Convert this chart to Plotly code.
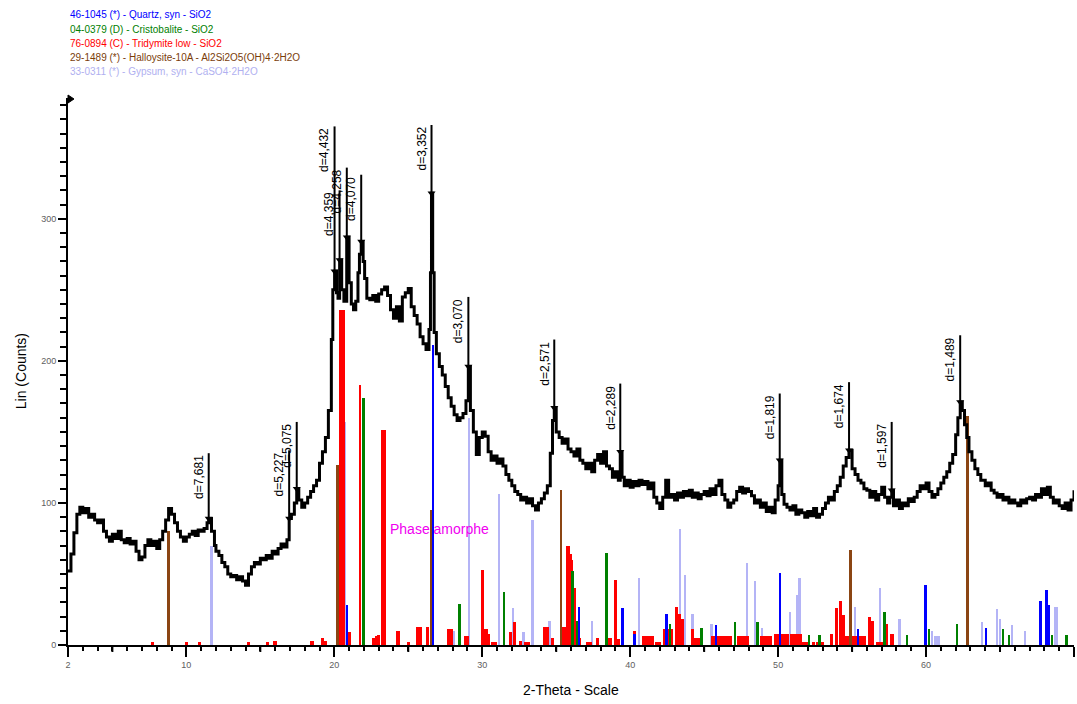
import math
import plotly.graph_objects as go

# ---------------- measured pattern (2-theta, counts) ----------------
two_theta = [
    2.0, 2.2, 2.4, 2.6, 2.8, 3.0, 3.2, 3.4, 3.6, 3.8,
    4.0, 4.2, 4.4, 4.6, 4.8, 5.0, 5.2, 5.4, 5.6, 5.8,
    6.0, 6.2, 6.4, 6.6, 6.8, 7.0, 7.2, 7.4, 7.6, 7.8,
    8.0, 8.2, 8.4, 8.6, 8.8, 9.0, 9.2, 9.4, 9.6, 9.8,
    10.0, 10.2, 10.4, 10.6, 10.8, 11.0, 11.2, 11.4, 11.51, 11.7, 11.9,
    12.0, 12.2, 12.4, 12.6, 12.8, 13.0, 13.2, 13.4, 13.6, 13.8,
    14.0, 14.2, 14.4, 14.6, 14.8, 15.0, 15.2, 15.4, 15.6, 15.8,
    16.0, 16.2, 16.4, 16.6, 16.8, 16.95, 17.1, 17.3, 17.46, 17.6, 17.8,
    18.0, 18.2, 18.4, 18.6, 18.8, 19.0, 19.2, 19.4, 19.6, 19.8,
    19.9, 20.02, 20.15, 20.25, 20.36, 20.5, 20.65, 20.84, 21.0, 21.15,
    21.3, 21.45, 21.6, 21.7, 21.82, 21.95, 22.05, 22.2,
    22.4, 22.6, 22.8, 23.0, 23.2, 23.4, 23.6, 23.8,
    24.0, 24.2, 24.4, 24.6, 24.8, 25.0, 25.2, 25.4, 25.6, 25.8,
    26.0, 26.2, 26.4, 26.5, 26.57, 26.65, 26.75, 26.9, 27.1, 27.3, 27.5, 27.7, 27.9,
    28.1, 28.3, 28.5, 28.7, 28.9, 29.06, 29.2, 29.4, 29.6, 29.8,
    30.0, 30.2, 30.4, 30.6, 30.8, 31.0, 31.2, 31.4, 31.6, 31.8,
    32.0, 32.2, 32.4, 32.6, 32.8, 33.0, 33.2, 33.4, 33.6, 33.8,
    34.0, 34.2, 34.4, 34.6, 34.75, 34.87, 35.0, 35.2, 35.4, 35.6, 35.8,
    36.0, 36.2, 36.4, 36.6, 36.8, 37.0, 37.2, 37.4, 37.6, 37.8,
    38.0, 38.2, 38.4, 38.6, 38.8, 39.0, 39.2, 39.33, 39.45, 39.6, 39.8,
    40.0, 40.2, 40.4, 40.6, 40.8, 41.0, 41.2, 41.4, 41.6, 41.8,
    42.0, 42.2, 42.4, 42.6, 42.8, 43.0, 43.2, 43.4, 43.6, 43.8,
    44.0, 44.2, 44.4, 44.6, 44.8, 45.0, 45.2, 45.4, 45.6, 45.8,
    46.0, 46.2, 46.4, 46.6, 46.8, 47.0, 47.2, 47.4, 47.6, 47.8,
    48.0, 48.2, 48.4, 48.6, 48.8, 49.0, 49.2, 49.4, 49.6, 49.8,
    50.0, 50.11, 50.25, 50.4, 50.6, 50.8, 51.0, 51.2, 51.4, 51.6, 51.8,
    52.0, 52.2, 52.4, 52.6, 52.8, 53.0, 53.2, 53.4, 53.6, 53.8,
    54.0, 54.2, 54.4, 54.6, 54.79, 55.0, 55.2, 55.4, 55.6, 55.8,
    56.0, 56.2, 56.4, 56.6, 56.8, 57.0, 57.2, 57.4, 57.55, 57.68, 57.8,
    58.0, 58.2, 58.4, 58.6, 58.8, 59.0, 59.2, 59.4, 59.6, 59.8,
    60.0, 60.2, 60.4, 60.6, 60.8, 61.0, 61.2, 61.4, 61.6, 61.8,
    62.0, 62.15, 62.31, 62.45, 62.6, 62.75, 62.9, 63.1, 63.3, 63.5, 63.7,
    64.0, 64.2, 64.4, 64.6, 64.8, 65.0, 65.2, 65.4, 65.6, 65.8,
    66.0, 66.2, 66.4, 66.6, 66.8, 67.0, 67.2, 67.4, 67.6, 67.8,
    68.0, 68.2, 68.4, 68.6, 68.8, 69.0, 69.2, 69.4, 69.6, 69.8, 70.0,
]
counts = [
    52, 64, 79, 92, 97, 93, 96, 90, 92, 88,
    86, 88, 80, 76, 73, 78, 75, 80, 74, 72,
    75, 71, 73, 66, 60, 62, 70, 74, 70, 73,
    68, 74, 80, 88, 96, 92, 86, 80, 76, 73,
    76, 78, 80, 77, 81, 80, 82, 86, 89, 80, 70,
    66, 63, 58, 55, 50, 48, 49, 46, 48, 45,
    42, 50, 55, 58, 57, 61, 60, 63, 61, 66,
    64, 68, 71, 69, 74, 89, 92, 100, 110, 102, 97,
    100, 104, 108, 112, 116, 128, 136, 146, 165, 215,
    250, 263, 248, 244, 271, 250, 242, 287, 255, 240,
    236, 242, 262, 275, 284, 270, 258, 244,
    243, 246, 242, 247, 250, 252, 246, 236,
    230, 238, 228, 245, 248, 251, 238, 232, 226, 217,
    212, 208, 222, 262, 318, 262, 220, 205, 196, 190, 182, 174, 168,
    162, 158, 160, 163, 172, 196, 165, 150, 134, 146,
    150, 147, 136, 130, 133, 128, 131, 126, 120, 116,
    112, 108, 106, 102, 104, 100, 103, 98, 95, 100,
    103, 107, 112, 135, 158, 167, 150, 146, 142, 145, 138,
    136, 133, 138, 130, 128, 124, 128, 122, 130, 134,
    128, 136, 126, 124, 118, 122, 116, 136, 118, 112, 116,
    111, 115, 112, 116, 113, 115, 110, 114, 104, 100,
    96, 104, 116, 104, 106, 102, 107, 104, 108, 105,
    109, 104, 107, 103, 106, 108, 105, 110, 106, 112,
    116, 106, 102, 97, 100, 102, 108, 111, 107, 110,
    108, 105, 100, 102, 97, 100, 94, 97, 93, 102,
    112, 130, 106, 99, 97, 95, 98, 92, 95, 93, 90,
    94, 91, 96, 90, 92, 96, 100, 104, 102, 108,
    112, 118, 126, 132, 137, 124, 120, 116, 114, 110,
    109, 104, 108, 102, 106, 111, 104, 100, 104, 109, 98,
    102, 96, 100, 98, 103, 101, 104, 108, 112, 110,
    114, 108, 104, 106, 110, 114, 118, 122, 128, 134,
    148, 160, 171, 165, 155, 146, 136, 130, 124, 120, 116,
    112, 114, 109, 107, 104, 106, 102, 104, 100, 102,
    100, 98, 102, 100, 103, 104, 102, 106, 104, 110,
    106, 111, 104, 100, 102, 98, 96, 100, 95, 102, 109,
]

# ---------------- reference patterns (stick positions / relative heights) ----------------
quartz_pos = [20.86, 26.66, 36.54, 39.47, 40.29, 42.45, 45.79, 50.14, 55.40, 59.96,
              64.04, 67.74, 68.14, 68.32]
quartz_int = [28, 211, 27, 26, 8, 22, 14, 51, 11, 42, 12, 31, 39, 28]

cristobalite_pos = [21.98, 28.47, 31.46, 36.10, 36.45, 38.40, 42.68, 44.82, 47.07, 48.60,
                    52.10, 52.80, 57.20, 58.70, 60.20, 62.10, 65.20, 65.60, 68.50, 69.50]
cristobalite_int = [174, 29, 37, 52, 17, 65, 15, 12, 16, 16,
                    7, 7, 23, 7, 11, 15, 11, 7, 7, 7]

tridymite_pos = [7.70, 10.00, 10.90, 14.20, 15.50, 16.00, 18.50, 19.20, 19.40, 20.50,
                 21.05, 21.75, 22.65, 22.85, 23.00, 23.30, 24.30, 25.00, 25.65, 25.85,
                 26.30, 27.70, 27.90, 28.85, 29.00, 30.00, 30.25, 30.40, 30.70, 30.90,
                 31.90, 32.20, 32.60, 32.90, 33.10, 34.20, 34.40, 34.75, 35.40, 35.60,
                 35.80, 35.95, 36.05, 36.25, 36.55, 37.10, 37.30, 37.80, 38.50, 38.65,
                 39.00, 39.20, 40.30, 40.90, 41.10, 41.30, 41.50, 41.80, 42.00, 42.30,
                 42.55, 42.80, 43.15, 43.30, 43.50, 44.20, 44.45, 44.65, 45.60, 45.80,
                 46.00, 46.20, 46.40, 46.60, 46.80, 47.35, 47.55, 47.75, 47.95, 48.90,
                 49.10, 49.30, 49.50, 49.80, 50.00, 50.20, 50.40, 50.60, 50.90, 51.10,
                 51.30, 51.50, 51.75, 52.00, 52.40, 52.70, 53.00, 53.60, 53.95, 54.20,
                 54.40, 54.65, 55.00, 55.20, 55.40, 55.60, 55.80, 56.20, 56.40, 56.70,
                 56.95, 57.30, 57.70]
tridymite_int = [2, 2, 2, 2, 2, 3, 3, 5, 3, 236,
                 9, 183, 5, 6, 7, 151, 10, 2, 13, 13,
                 13, 11, 11, 6, 6, 53, 11, 8, 2, 2,
                 9, 16, 3, 2, 2, 13, 13, 5, 13, 13,
                 70, 64, 60, 40, 5, 2, 2, 5, 5, 5,
                 46, 4, 10, 6, 6, 6, 6, 2, 2, 11,
                 11, 11, 27, 22, 18, 11, 5, 5, 6, 6,
                 6, 6, 6, 6, 6, 6, 6, 6, 6, 6,
                 6, 6, 6, 8, 8, 8, 8, 8, 8, 8,
                 8, 8, 2, 2, 2, 2, 2, 8, 26, 31,
                 21, 6, 6, 6, 6, 6, 6, 20, 17, 2,
                 2, 15, 8]

halloysite_pos = [8.82, 20.24, 26.55, 35.36, 54.92, 62.83]
halloysite_int = [80, 127, 95, 109, 67, 161]

gypsum_pos = [11.70, 20.72, 23.40, 28.10, 29.12, 31.12, 32.08, 32.80, 33.40, 34.55,
              36.00, 37.40, 40.60, 43.35, 43.70, 44.20, 45.50, 47.90, 48.45, 48.90,
              50.80, 51.30, 51.45, 55.20, 56.90, 58.20, 60.40, 60.65, 60.85, 63.80,
              64.80, 65.00, 65.80, 66.70, 68.70, 68.85]
gypsum_int = [70, 157, 6, 10, 160, 106, 26, 9, 88, 17,
              12, 17, 47, 82, 49, 22, 15, 58, 45, 12,
              23, 35, 47, 27, 40, 18, 10, 6, 6, 16,
              25, 18, 14, 10, 27, 27]

# ---------------- peak search results ----------------
peak_d = [7.681, 5.227, 5.075, 4.432, 4.359, 4.258, 4.070, 3.352, 3.070,
          2.571, 2.289, 1.819, 1.674, 1.597, 1.489]
peak_counts = [89, 89, 110, 263, 271, 287, 284, 318, 196, 167, 136, 130, 137, 109, 171]
peak_line_top = [135, 137, 157, 365, 320, 336, 331, 366, 245, 215, 184, 177, 185, 157, 218]

phase_cards = [
    ("46-1045 (*) - Quartz, syn - SiO2", "#0000ff"),
    ("04-0379 (D) - Cristobalite - SiO2", "#008000"),
    ("76-0894 (C) - Tridymite low - SiO2", "#ff0000"),
    ("29-1489 (*) - Halloysite-10A - Al2Si2O5(OH)4\u00b72H2O", "#7a3d0a"),
    ("33-0311 (*) - Gypsum, syn - CaSO4\u00b72H2O", "#b0b0f0"),
]

WAVELENGTH = 1.5406  # Cu K-alpha1, angstrom
FONT = "Arial, Liberation Sans, sans-serif"

# the strongest tridymite lines are drawn a bit broader, 21.75 narrower
tridymite_w = [0.42 if p == 20.50 else 0.34 if p == 23.30 else 0.1 if p == 21.75 else 0.22
               for p in tridymite_pos]

fig = go.Figure()

stick_sets = [
    (gypsum_pos, gypsum_int, "#b4b4f6", 0.16),
    (tridymite_pos, tridymite_int, "#ff0000", tridymite_w),
    (cristobalite_pos, cristobalite_int, "#008000", 0.17),
    (quartz_pos, quartz_int, "#0000ff", 0.17),
    (halloysite_pos, halloysite_int, "#8b4513", 0.13),
]
for pos, inten, col, w in stick_sets:
    fig.add_trace(go.Bar(
        x=pos, y=inten, width=w, marker=dict(color=col, line=dict(width=0)),
        showlegend=False, hoverinfo="skip",
    ))

# measured scan
fig.add_trace(go.Scatter(
    x=two_theta, y=counts, mode="lines",
    line=dict(color="black", width=3, shape="hv"),
    showlegend=False, hoverinfo="skip",
))

# peak markers with d-spacing labels
peak_theta = [2 * math.degrees(math.asin(WAVELENGTH / (2 * d))) for d in peak_d]
for d, tt, c, top in zip(peak_d, peak_theta, peak_counts, peak_line_top):
    fig.add_trace(go.Scatter(
        x=[tt, tt], y=[c, top], mode="lines",
        line=dict(color="black", width=2), showlegend=False, hoverinfo="skip",
    ))
    fig.add_trace(go.Scatter(
        x=[tt], y=[c], mode="markers",
        marker=dict(symbol="triangle-down", size=7, color="black"),
        showlegend=False, hoverinfo="skip",
    ))
    fig.add_annotation(
        x=tt, y=top, xref="x", yref="y", text=("d=%.3f" % d).replace(".", ","),
        textangle=-90, showarrow=False, xanchor="right", yanchor="top",
        xshift=-1, font=dict(family=FONT, size=12, color="black"),
    )

# phase list in the top-left corner
PLOT_BOTTOM_PX, PLOT_H_PX = 645, 547
for i, (label, col) in enumerate(phase_cards):
    py = 15 + i * 14.2
    fig.add_annotation(
        x=0, y=(PLOT_BOTTOM_PX - py) / PLOT_H_PX, xref="paper", yref="paper",
        text=label, showarrow=False, xanchor="left", yanchor="middle",
        font=dict(family=FONT, size=10, color=col),
    )

fig.add_annotation(
    x=23.6, y=82, xref="x", yref="y", text="Phase amorphe", showarrow=False,
    xanchor="left", yanchor="middle", font=dict(family=FONT, size=14, color="#f000f0"),
)

fig.add_annotation(
    x=-0.047, y=0.5, xref="paper", yref="paper", text="Lin (Counts)", textangle=-90,
    showarrow=False, xanchor="center", yanchor="middle",
    font=dict(family=FONT, size=14, color="black"),
)
fig.add_annotation(
    x=0.5, y=-0.082, xref="paper", yref="paper", text="2-Theta - Scale",
    showarrow=False, xanchor="center", yanchor="middle",
    font=dict(family=FONT, size=14, color="black"),
)

# mid-decade ticks on the 2-theta axis
for t in range(5, 70, 10):
    fig.add_shape(type="line", xref="x", yref="paper", x0=t, x1=t, y0=0, y1=-7 / PLOT_H_PX,
                  line=dict(color="black", width=2))

# small flag at the top of the intensity axis
fig.add_shape(type="path", xref="paper", yref="paper",
              path="M 0 %f L %f %f L 0 %f Z" % (1 + 3 / PLOT_H_PX, 6 / 1006, 1 - 1 / PLOT_H_PX,
                                                  1 - 5 / PLOT_H_PX),
              fillcolor="black", line=dict(color="black", width=1))

fig.update_layout(
    width=1077, height=704,
    margin=dict(l=68, r=3, t=98, b=59),
    paper_bgcolor="white", plot_bgcolor="white",
    barmode="overlay", bargap=0,
    font=dict(family=FONT),
    xaxis=dict(
        range=[2, 70], tickvals=[2, 10, 20, 30, 40, 50, 60, 70],
        ticks="outside", ticklen=10, tickwidth=2, tickcolor="black",
        showline=True, linecolor="black", linewidth=2, showgrid=False, zeroline=False,
        tickfont=dict(size=9, color="#606060"),
        minor=dict(tickvals=list(range(3, 70)), ticks="outside", ticklen=4,
                   tickwidth=2, tickcolor="black", showgrid=False),
    ),
    yaxis=dict(
        range=[0, 385], tickvals=[0, 100, 200, 300],
        ticks="outside", ticklen=8, tickwidth=2, tickcolor="black",
        showline=True, linecolor="black", linewidth=2, showgrid=False, zeroline=False,
        tickfont=dict(size=9, color="#606060"),
        minor=dict(dtick=10, ticks="outside", ticklen=6, tickwidth=2,
                   tickcolor="black", showgrid=False),
    ),
)

fig.write_html("out.html")
